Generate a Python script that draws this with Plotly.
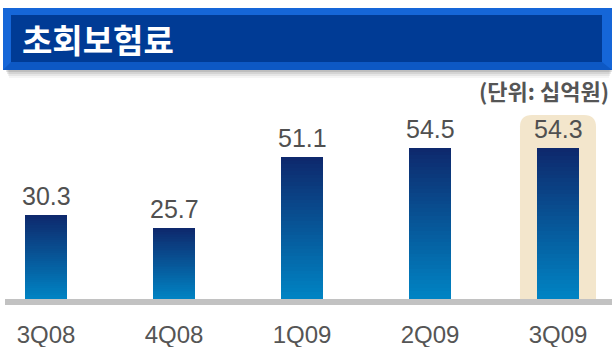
import plotly.graph_objects as go

# ---- data ----
categories = ["3Q08", "4Q08", "1Q09", "2Q09", "3Q09"]
values = [30.3, 25.7, 51.1, 54.5, 54.3]
highlight_category = "3Q09"
title_text = "초회보험료"
unit_text = "(단위: 십억원)"

# ---- geometry / style ----
W, H = 615, 347
MB = 48                      # bottom margin: baseline at pixel 299
PLOT_H = H - MB
PX_PER_UNIT = 2.775
Y_MAX = PLOT_H / PX_PER_UNIT
CAT_STEP = 128.0
FIRST_CENTER = 46.0
X0 = -FIRST_CENTER / CAT_STEP
X1 = X0 + W / CAT_STEP
BAR_W = 42 / CAT_STEP

TOP_RGB = (14, 40, 108)
BOT_RGB = (0, 132, 196)
N_SEG = 40


def px_x(p):
    return p / W


def px_y(p):
    # pixel from top -> paper y (plot area is top 0..299)
    return (PLOT_H - p) / PLOT_H


fig = go.Figure()

# gradient bars built as stacked slices of each value
for k in range(N_SEG):
    t = (k + 0.5) / N_SEG  # 0 bottom -> 1 top
    r = round(BOT_RGB[0] + (TOP_RGB[0] - BOT_RGB[0]) * t)
    g = round(BOT_RGB[1] + (TOP_RGB[1] - BOT_RGB[1]) * t)
    b = round(BOT_RGB[2] + (TOP_RGB[2] - BOT_RGB[2]) * t)
    fig.add_trace(go.Bar(
        x=list(range(len(categories))),
        y=[v / N_SEG for v in values],
        width=BAR_W,
        marker=dict(color=f"rgb({r},{g},{b})", line=dict(width=0)),
        hoverinfo="skip",
        showlegend=False,
    ))

# value labels
for i, v in enumerate(values):
    fig.add_annotation(
        x=i, y=v, text=f"{v:.1f}", showarrow=False,
        yanchor="bottom", yshift=3,
        font=dict(family="Liberation Sans, Arial", size=25, color="#505050"),
    )

shapes = []

# highlight box behind the highlighted bar (rounded top)
hi = categories.index(highlight_category)
hx0, hx1 = hi - 0.297, hi + 0.297
htop = values[hi] + 12.0
rx = 12 / CAT_STEP
ry = 12 / PX_PER_UNIT
path = (f"M {hx0},0 L {hx0},{htop - ry} Q {hx0},{htop} {hx0 + rx},{htop} "
        f"L {hx1 - rx},{htop} Q {hx1},{htop} {hx1},{htop - ry} L {hx1},0 Z")
shapes.append(dict(type="path", path=path, xref="x", yref="y",
                   fillcolor="#f3e6cc", line=dict(width=0), layer="below"))

# baseline
shapes.append(dict(type="rect", xref="paper", yref="paper",
                   x0=px_x(5), x1=px_x(612), y0=px_y(299), y1=px_y(305),
                   fillcolor="#c2c2c2", line=dict(width=0), layer="above"))

# title banner shadow
for j, a in enumerate([0.10, 0.08, 0.06, 0.04]):
    shapes.append(dict(type="rect", xref="paper", yref="paper",
                       x0=px_x(6 + j), x1=px_x(612 - j),
                       y0=px_y(72 + 2 * j), y1=px_y(60),
                       fillcolor=f"rgba(0,0,0,{a})", line=dict(width=0)))
# banner outer bevel
shapes.append(dict(type="rect", xref="paper", yref="paper",
                   x0=px_x(3), x1=px_x(612), y0=px_y(70), y1=px_y(8),
                   fillcolor="#1566d8", line=dict(width=0)))
# lower bevel darker strip
shapes.append(dict(type="path", xref="paper", yref="paper",
                   path=(f"M {px_x(3)},{px_y(70)} L {px_x(11)},{px_y(62)} "
                         f"L {px_x(602)},{px_y(62)} L {px_x(612)},{px_y(70)} Z"),
                   fillcolor="#0d58c4", line=dict(width=0)))
# banner inner panel
shapes.append(dict(type="rect", xref="paper", yref="paper",
                   x0=px_x(11), x1=px_x(602), y0=px_y(62), y1=px_y(15),
                   fillcolor="#003b95", line=dict(width=0)))

fig.add_annotation(
    xref="paper", yref="paper", x=px_x(20), y=px_y(39),
    xanchor="left", yanchor="middle", showarrow=False,
    text=f"<b>{title_text}</b>",
    font=dict(family="Noto Sans CJK KR", size=33, color="#ffffff"),
)
fig.add_annotation(
    xref="paper", yref="paper", x=px_x(611), y=px_y(90),
    xanchor="right", yanchor="middle", showarrow=False,
    text=f"<b>{unit_text}</b>",
    font=dict(family="Noto Sans CJK KR", size=22, color="#555555"),
)

fig.update_layout(
    width=W, height=H,
    margin=dict(l=0, r=0, t=0, b=MB),
    paper_bgcolor="#ffffff", plot_bgcolor="#ffffff",
    barmode="stack", bargap=0,
    shapes=shapes,
    showlegend=False,
    xaxis=dict(
        range=[X0, X1], tickmode="array",
        tickvals=list(range(len(categories))), ticktext=categories,
        showgrid=False, zeroline=False, showline=False,
        ticks="outside", ticklen=14, tickcolor="rgba(0,0,0,0)",
        tickfont=dict(family="Liberation Sans, Arial", size=24, color="#555555"),
        fixedrange=True,
    ),
    yaxis=dict(range=[0, Y_MAX], visible=False, fixedrange=True),
)

fig.write_html(
    "out.html",
    config={"displayModeBar": False},
    post_script="document.body.style.margin='0';document.body.style.overflow='hidden';",
)
